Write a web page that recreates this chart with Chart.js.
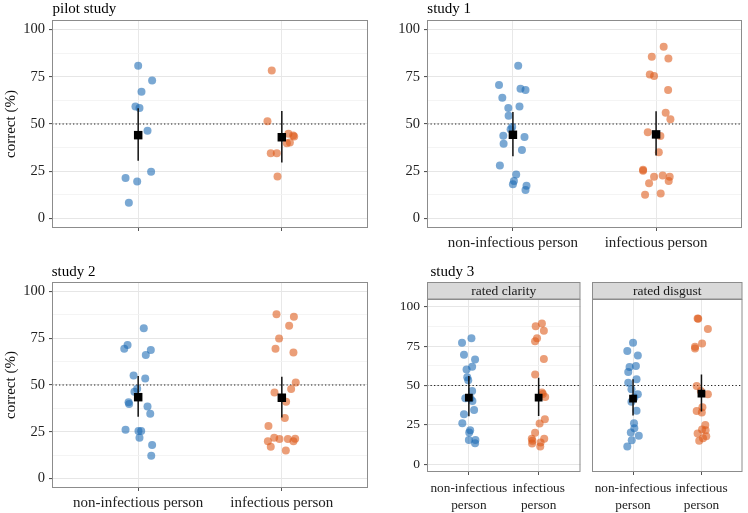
<!DOCTYPE html>
<html>
<head>
<meta charset="utf-8">
<script src="https://cdn.jsdelivr.net/npm/chart.js@4.4.0/dist/chart.umd.min.js"></script>
<style>
  html, body { margin: 0; padding: 0; background: #fff; }
  #wrap { position: relative; width: 748px; height: 513px; overflow: hidden; }
  canvas { position: absolute; }
</style>
</head>
<body>
<div id="wrap"></div>
<script>
// categories and axis ticks
const categories = ["non-infectious person", "infectious person"];
const categoriesWrapped = [["non-infectious", "person"], ["infectious", "person"]];
const yMajor = [0, 25, 50, 75, 100];
const yMinor = [12.5, 37.5, 62.5, 87.5];
const chance = 50;

// pilot study
const pilotNonInf = [80.8, 73.0, 67.1, 59.3, 58.4, 46.4, 24.7, 21.4, 19.6, 8.4];
const pilotNonInfJit = [0, 0.097, 0.023, -0.019, 0.009, 0.065, 0.09, -0.088, -0.007, -0.065];
const pilotInf = [78.3, 51.4, 44.8, 43.4, 43.9, 40.2, 39.8, 34.5, 34.5, 22.2];
const pilotInfJit = [-0.07, -0.1, 0.046, 0.086, 0.079, 0.056, 0.035, -0.077, -0.035, -0.03];
const pilotMean = [44.1, 43.0];
const pilotLow = [30.6, 29.7];
const pilotHigh = [58.3, 56.9];

// study 1
const s1NonInf = [80.8, 70.6, 68.7, 68.0, 63.9, 59.3, 58.5, 54.4, 48.4, 47.2, 43.8, 43.1, 39.5, 36.3, 28.1, 23.3, 19.9, 18.1, 17.3, 15.1];
const s1NonInfJit = [0.037, -0.097, 0.053, 0.088, -0.074, 0.046, -0.032, -0.030, -0.005, -0.016, -0.067, 0.081, -0.065, 0.063, -0.091, 0.023, 0.007, 0, 0.095, 0.088];
const s1Inf = [90.9, 85.6, 84.7, 76.2, 75.4, 68.0, 55.9, 52.5, 45.7, 43.6, 35.0, 25.8, 25.3, 22.1, 22.8, 22.1, 19.9, 18.7, 12.6, 13.2];
const s1InfJit = [0.053, -0.030, 0.086, -0.044, -0.014, 0.084, 0.067, 0.100, -0.058, 0.030, 0.019, -0.091, -0.091, -0.014, 0.046, 0.095, 0.088, -0.049, -0.077, 0.032];
const s1Mean = [44.3, 44.5];
const s1Low = [32.9, 33.3];
const s1High = [56.4, 56.8];

// study 2
const s2NonInf = [80.3, 71.4, 69.4, 68.7, 66.0, 55.1, 53.5, 48.0, 46.4, 40.8, 39.9, 38.5, 34.6, 26.1, 25.4, 25.4, 21.8, 17.9, 12.2];
const s2NonInfJit = [0.039, -0.074, -0.097, 0.088, 0.053, -0.032, 0.049, -0.007, -0.026, -0.067, -0.063, 0.065, 0.084, -0.088, 0.002, 0.021, 0.009, 0.097, 0.091];
const s2Inf = [87.8, 86.4, 81.6, 74.8, 69.4, 67.3, 51.3, 47.9, 46.0, 41.0, 32.4, 28.1, 21.8, 21.1, 21.1, 21.3, 19.9, 20.0, 17.0, 15.0];
const s2InfJit = [-0.037, 0.084, 0.051, -0.019, -0.044, 0.081, 0.097, 0.065, -0.051, 0.030, 0.021, -0.093, -0.053, -0.016, 0.042, 0.093, 0.081, -0.097, -0.077, 0.028];
const s2Mean = [43.5, 43.2];
const s2Low = [33.0, 32.7];
const s2High = [54.8, 54.4];

// study 3, rated clarity
const s3cNonInf = [80.1, 77.2, 69.6, 66.6, 60.2, 62.0, 55.2, 53.3, 46.5, 41.9, 41.9, 40.1, 34.4, 31.7, 26.0, 21.6, 20.1, 15.4, 15.4, 13.3];
const s3cNonInfJit = [0.037, -0.098, -0.070, 0.089, -0.033, 0.047, -0.023, -0.009, 0.047, -0.051, 0.023, 0.051, 0.075, -0.070, -0.094, 0.019, 0.005, 0, 0.094, 0.089];
const s3cInf = [89.4, 87.7, 84.8, 80.1, 78.2, 66.8, 57.0, 45.5, 44.6, 42.7, 28.5, 25.8, 19.9, 16.1, 16.1, 14.8, 13.1, 13.7, 11.2];
const s3cInfJit = [0.047, -0.042, 0.075, -0.023, -0.051, 0.075, -0.050, 0.047, 0.061, 0.094, 0.089, 0.014, -0.051, -0.098, 0.080, -0.089, -0.094, 0.028, 0.023];
const s3cMean = [42.3, 42.3];
const s3cLow = [30.4, 30.6];
const s3cHigh = [56.0, 55.0];

// study 3, rated disgust
const s3dNonInf = [77.2, 71.9, 69.1, 61.7, 62.4, 58.6, 53.9, 51.8, 44.4, 47.6, 42.3, 39.7, 34.0, 26.0, 22.8, 20.1, 18.0, 15.2, 11.2];
const s3dNonInfJit = [0, -0.084, 0.070, -0.051, 0.042, -0.070, 0.051, -0.070, 0.070, -0.023, 0.019, -0.023, 0.051, 0.014, 0.019, -0.033, 0.084, -0.019, -0.084];
const s3dInf = [92.6, 92.4, 86.0, 76.7, 74.6, 73.6, 49.7, 46.5, 44.4, 36.2, 33.8, 32.8, 24.9, 21.6, 22.0, 19.5, 17.8, 16.5, 14.8];
const s3dInfJit = [-0.056, -0.047, 0.094, 0.009, -0.094, -0.094, -0.070, -0.009, 0.094, 0.014, -0.070, 0.005, 0.056, 0.061, 0.009, -0.056, 0.070, 0.023, -0.033];
const s3dMean = [41.7, 44.8];
const s3dLow = [31.0, 33.5];
const s3dHigh = [53.9, 57.0];

const blue = "rgba(25, 105, 180, 0.58)";
const orange = "rgba(220, 88, 22, 0.58)";
const serif = "'Liberation Serif', 'DejaVu Serif', serif";

Chart.defaults.font.family = serif;
Chart.defaults.color = "#333";

// Draws panel border, facet strip and panel title
const panelDeco = {
    id: "panelDeco",
    afterDraw(chart, args, o) {
        const ctx = chart.ctx;
        const a = chart.chartArea;
        ctx.save();
        ctx.strokeStyle = "#8c8c8c";
        ctx.lineWidth = 1;
        ctx.strokeRect(a.left + 0.5, a.top + 0.5, a.right - a.left - 1, a.bottom - a.top - 1);
        if (o.strip) {
            ctx.fillStyle = "#d9d9d9";
            ctx.fillRect(a.left + 0.5, a.top - 16.5, a.right - a.left - 1, 16.5);
            ctx.strokeRect(a.left + 0.5, a.top - 16.5, a.right - a.left - 1, 16.5);
            ctx.fillStyle = "#1a1a1a";
            ctx.font = "13.5px " + serif;
            ctx.textAlign = "center";
            ctx.textBaseline = "middle";
            ctx.fillText(o.strip, (a.left + a.right) / 2, a.top - 8);
        }
        if (o.title) {
            ctx.fillStyle = "#000";
            ctx.font = "15px " + serif;
            ctx.textAlign = "left";
            ctx.textBaseline = "alphabetic";
            ctx.fillText(o.title, o.titleX, o.titleY);
        }
        ctx.restore();
    }
};

function points(values, jitter, cat) {
    return values.map((v, i) => ({ x: cat + jitter[i], y: v }));
}

// Function to create one panel
function createPanel(p) {
    const canvas = document.createElement("canvas");
    canvas.width = p.box[2];
    canvas.height = p.box[3];
    canvas.style.left = p.box[0] + "px";
    canvas.style.top = p.box[1] + "px";
    document.getElementById("wrap").appendChild(canvas);

    const yWidth = p.area[0] - p.box[0];
    const xHeight = p.box[1] + p.box[3] - p.area[3];
    const tickSize = p.tickSize || 14.5;
    const labelSize = p.labelSize || 15;

    const datasets = [
        { data: [{ x: 0.4, y: chance }, { x: 2.6, y: chance }], showLine: true, borderColor: "#222",
          borderWidth: 1.2, borderDash: [1.3, 2.2], pointRadius: 0, order: 3 },
        { data: points(p.non, p.nonJit, 1), backgroundColor: blue, borderWidth: 0, pointRadius: 4, order: 2 },
        { data: points(p.inf, p.infJit, 2), backgroundColor: orange, borderWidth: 0, pointRadius: 4, order: 2 },
    ];
    [1, 2].forEach((cat, i) => {
        datasets.push({ data: [{ x: cat, y: p.low[i] }, { x: cat, y: p.high[i] }], showLine: true,
            borderColor: "#111", borderWidth: 1.5, pointRadius: 0, order: 1 });
    });
    datasets.push({ data: p.mean.map((m, i) => ({ x: i + 1, y: m })), pointStyle: "rect",
        pointRadius: p.meanR || 6, backgroundColor: "#000", borderWidth: 0, order: 0 });

    return new Chart(canvas, {
        type: "scatter",
        data: { datasets: datasets },
        plugins: [panelDeco],
        options: {
            responsive: false,
            animation: false,
            devicePixelRatio: 1,
            layout: {
                padding: {
                    left: p.showY ? 0 : yWidth,
                    top: p.area[1] - p.box[1],
                    right: p.box[0] + p.box[2] - p.area[2],
                    bottom: 0,
                },
            },
            plugins: {
                legend: { display: false },
                tooltip: { enabled: false },
                panelDeco: { title: p.title, titleX: p.titleX, titleY: p.titleY, strip: p.strip },
            },
            scales: {
                x: {
                    type: "linear",
                    min: 0.4,
                    max: 2.6,
                    afterBuildTicks: s => { s.ticks = [{ value: 1 }, { value: 2 }]; },
                    afterFit: s => { s.height = xHeight; },
                    grid: { color: "#e8e8e8", lineWidth: 1, tickColor: "#555", tickLength: 3 },
                    border: { display: false },
                    ticks: {
                        padding: p.xPad || 3,
                        maxRotation: 0,
                        autoSkip: false,
                        font: { size: labelSize, lineHeight: p.xLine || 1.2 },
                        color: "#222",
                        callback: v => p.xLabels ? p.xLabels[Math.round(v) - 1] : "",
                    },
                },
                y: {
                    min: -5,
                    max: 105,
                    display: p.showY ? true : false,
                    afterBuildTicks: s => {
                        s.ticks = yMajor.concat(yMinor).sort((a, b) => a - b).map(v => ({ value: v }));
                    },
                    afterFit: s => { s.width = yWidth; },
                    grid: {
                        color: c => yMajor.includes(c.tick.value) ? "#e6e6e6" : "#f1f1f1",
                        lineWidth: c => yMajor.includes(c.tick.value) ? 1.1 : 0.8,
                        tickColor: c => yMajor.includes(c.tick.value) ? "#555" : "rgba(0,0,0,0)",
                        tickLength: 3,
                    },
                    border: { display: false },
                    ticks: {
                        padding: 4,
                        autoSkip: false,
                        font: { size: tickSize },
                        color: "#222",
                        callback: v => yMajor.includes(v) ? String(v) : "",
                    },
                    title: {
                        display: !!p.yTitle,
                        text: p.yTitle || "",
                        font: { size: 15 },
                        color: "#111",
                        padding: { top: 2, bottom: 0 },
                    },
                },
            },
        },
    });
}

// pilot study
createPanel({
    box: [0, 0, 374, 250], area: [52, 20, 368, 228], showY: true, yTitle: "correct (%)",
    title: "pilot study", titleX: 52.5, titleY: 12.5,
    non: pilotNonInf, nonJit: pilotNonInfJit, inf: pilotInf, infJit: pilotInfJit,
    mean: pilotMean, low: pilotLow, high: pilotHigh,
});

// study 1
createPanel({
    box: [374, 0, 374, 250], area: [427, 20, 743, 228], showY: true,
    title: "study 1", titleX: 53.3, titleY: 12.5, xLabels: categories,
    non: s1NonInf, nonJit: s1NonInfJit, inf: s1Inf, infJit: s1InfJit,
    mean: s1Mean, low: s1Low, high: s1High,
});

// study 2
createPanel({
    box: [0, 250, 374, 263], area: [52, 282, 368, 488], showY: true, yTitle: "correct (%)",
    title: "study 2", titleX: 51.7, titleY: 25.7, xLabels: categories,
    non: s2NonInf, nonJit: s2NonInfJit, inf: s2Inf, infJit: s2InfJit,
    mean: s2Mean, low: s2Low, high: s2High,
});

// study 3, two facets
createPanel({
    box: [374, 250, 212, 263], area: [427, 299, 584, 472], showY: true,
    title: "study 3", titleX: 56.5, titleY: 26, strip: "rated clarity",
    xLabels: categoriesWrapped, tickSize: 13.5, labelSize: 13.3, xPad: 5, xLine: 1.3, meanR: 5.5,
    non: s3cNonInf, nonJit: s3cNonInfJit, inf: s3cInf, infJit: s3cInfJit,
    mean: s3cMean, low: s3cLow, high: s3cHigh,
});
createPanel({
    box: [586, 250, 162, 263], area: [589, 299, 746, 472], showY: false,
    strip: "rated disgust",
    xLabels: categoriesWrapped, tickSize: 13.5, labelSize: 13.3, xPad: 5, xLine: 1.3, meanR: 5.5,
    non: s3dNonInf, nonJit: s3dNonInfJit, inf: s3dInf, infJit: s3dInfJit,
    mean: s3dMean, low: s3dLow, high: s3dHigh,
});
</script>
</body>
</html>
